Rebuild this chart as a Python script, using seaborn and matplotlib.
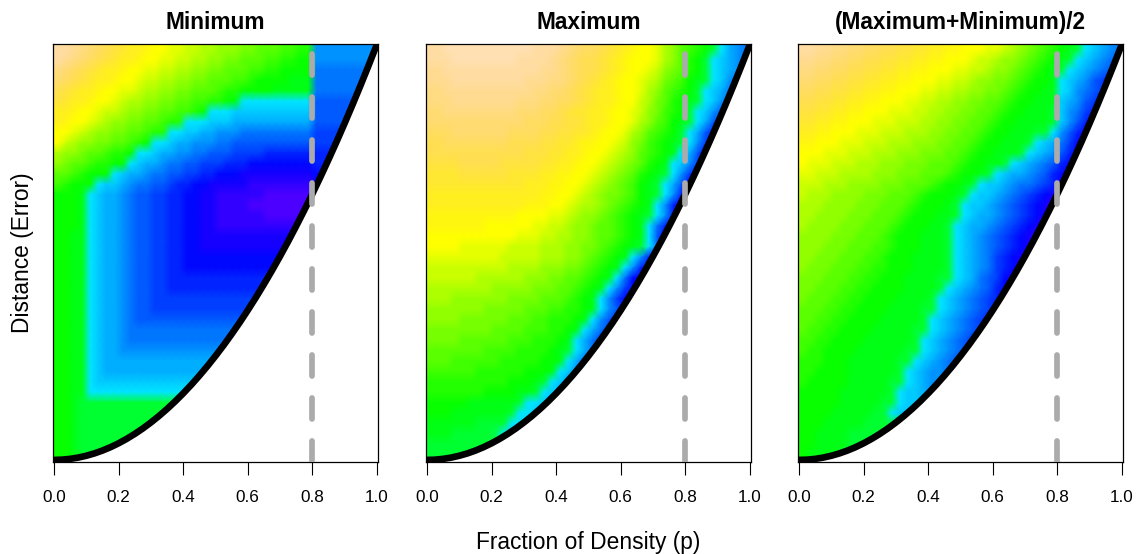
import colorsys
import numpy as np
import pandas as pd
import matplotlib
matplotlib.use("Agg")
import matplotlib.pyplot as plt
from matplotlib.colors import ListedColormap
from matplotlib.transforms import Affine2D
import seaborn as sns

# colour levels, one base-36 digit per cell (0 purple .. z peach)
# top row first, rows stop where the curve cuts them off
MIN_ROWS = [
    "yyxwvutsrqqpoonnmmllkkkjjiiihhgg88888888",
    "yxwvutsrqqpoonnmmllkkjjiiihhggff88888888",
    "wvutsrqqpoonnmmllkkjjiiihhggffff77777777",
    "vutsrqqpoonmmllkkjjiiihhgffffeee77777777",
    "tsrqqpoonnmllkkjjiiihggffffeeeee77777777",
    "srqqpoonmllkkjjiihhggfebbbbbbbbb66666666",
    "qqpoonmmlkkjjiihhgfbbbaaaaaaaaaa66666666",
    "qpoonmlkkjjiihggbbbaaa999999999966666666",
    "oonmlkkjjiihggbbaa9988877777777755555555",
    "omlkkjjiihgfbba9988877666666666655555555",
    "lkkjiihggfbba998877666555544444444444444",
    "kjiihggffba99877665554443333333344444444",
    "iihgfffba9987766554433322222222233333333",
    "hgfffbaa98776654433222221111111122222222",
    "fffeba9987665544332211111100000011",
    "fffeba99876655443322111100000000",
    "fffeba99876655443322111111000000",
    "fffeba9987665544332211111111111",
    "ffeeba998766554433222222222222",
    "ffeeba998766554433222222222222",
    "ffeeba99876655443333333333333",
    "ffeeba9987665544333333333333",
    "ffeeba998766554444444444444",
    "ffeeba998766554444444444444",
    "ffeeba99876655555555555555",
    "ffeeba9987665555555555555",
    "ffeeba998766666666666666",
    "ffeeba99877777777777777",
    "ffeeba9987777777777777",
    "ffeeba998888888888888",
    "ffeeba99999999999999",
    "ffeeba9999999999999",
    "ffeebaaaaaaaaaaaaa",
    "ffeebbbbbbbbbbbbb",
    "ffeddddddddddddd",
    "ffeddddddddddd",
    "ffeddddddddddd",
    "ffedddddddd",
    "ffeddddddd",
    "ffedd",
]
MAX_ROWS = [
    "yyzzzzzzzzzzzyyyxwvuutsrqpoonlkihgfdb987",
    "yyyzzzzzzzzyyyyxwvuttsrqpooonlkigfdba987",
    "xxyyyyyyyyyyyyxxwvuttsrqpoonmkjigfdba987",
    "xxxyyyyyyyyyxxxwwvutsrqpoonmljihfedba87",
    "wwxxxxxxxxxxxwwvvutsrqqpoonlkihgfdba97",
    "wwwxxxxxxxxwwwvvuutsrqqpoomljigfedba87",
    "vvwwwwwwwwwvvvuutsrrqqpoonmkjhgfdba865",
    "vvvvvvvvvvvvuuuttssrqqpoonlkihfedb965",
    "uuuvvvvvvvuuuuttssrrqpoonlkihgfdb964",
    "ttuuuuuuuuttttssrrqppoonmkjhgfedb853",
    "ttttttttttttsssrrqqpoonmlkihgfeb963",
    "sssstttttsssssrrqqpoonmlkjigfeba853",
    "rrrrssssssrrrrqqppoonmlkjigfedb853",
    "rrrrrrrrrrrrqqqppoonmlkjihfedb9632",
    "qqqqqqqqqqqqqqppoonmlkjjihfedb842",
    "qqqqqqqqqqqqpppoonmllkjihgfeb842",
    "pppppppppppoooonnmlkkjihgfedb842",
    "pppppppoooooonnmmlkkjiihgfeb742",
    "ooooooooooonnnmmllkkjiihgfeb63",
    "oooonnnnnnmmmmlllkkjjihgfedb73",
    "nnnnnnnnnmmmmmlllkkjihgfeb843",
    "mmmmmmmmmmllllkkkjjihgfeb84",
    "mmmmmmllllllkkkjjiihgfeb73",
    "llllllllkkkkkjjjiihgfeb853",
    "lllkkkkkkkjjjjiiihgfeb853",
    "kkkkkkkjjjjjiiihhggfeb864",
    "kkkkjjjjjjiiihhgggfeb865",
    "jjjjjjjjiiiihhhggfeb975",
    "jjjjiiiiiihhhgggfeb975",
    "iiiiiiihhhhggggfedb97",
    "iiihhhhhhgggggffeb97",
    "hhhhhhggggggfffeba8",
    "ggggggggggfffedba8",
    "gggggggffffeedba9",
    "fffffeeeeeedbba9",
    "fffeeeeeeedbba9",
    "eeeeeeddddbba9",
    "eeedddddcbaa",
    "dddddddddd",
    "dddddd",
]
MID_ROWS = [
    "yyxxwwvvuuttssrrqqppooonnmlkjihgfedba987",
    "xxwwvvuuttssrrqqppooonmmlkkjihgfedba9876",
    "wwvvuuttssrrqqppooonnmmlkkjihgfedba98765",
    "vvuuttssrrqqppooonnmmlkkjjihgffeba98654",
    "uuttssrrqqppooonnmmllkkjjihgffeeba87654",
    "ttssrrqqppooonnmmllkkjjiihgffeeea98653",
    "ssrrqqppooonnnmmllkkjjiihgffeeeda87543",
    "rrqqppooonnnmmmllkkjjiihgffeeeeda8643",
    "qqppooonnnmmmlllkkjjiihgffeeeddb8642",
    "ppooonnnmmmlllkkkjjiihgffeeedba97532",
    "ooonnnmmmlllkkkjjjiihgffeeedba98642",
    "onnnmmmlllkkkjjjiiihgffeedba9876432",
    "nnmmmllllkkkjjjiiihgffedba99876432",
    "mmmlllkkkkjjjiiihgffedbaa987765422",
    "mlllkkkkjjjiiihgfffedbaa987654321",
    "lllkkkkjjjiiihgfffedbaa987654321",
    "llkkkkjjjiiihgfffeedba9987654321",
    "lkkkkjjjiiihgfffeedba9987654321",
    "kkkkjjjiiihgfffeeedba987654321",
    "kkkjjjiiihhgfffeeedba987654321",
    "kkjjjiiihhgfffeeeedba98754322",
    "kjjjiiihhggfffeeeedba9875432",
    "jjjiiihhggfffeeeeddba976532",
    "jjiiihhggffffeeeedba9876432",
    "jiiihhggffffeeeedba9876543",
    "iiihhggffffeeeeddba987654",
    "iihhggffffeeeeedba987654",
    "ihhggffffeeeeeddba98765",
    "hhggffffeeeeeedba98765",
    "hggffffeeeeeeddba9876",
    "gggfffeeeeeeddba9876",
    "ggffffeeeeeedba9887",
    "gfffffeeeeeddba988",
    "fffffeeeeeedbaa98",
    "fffffeeeeeddbaa9",
    "ffffeeeeeddbaa",
    "fffeeeeedddddd",
    "ffeeeedddddd",
    "ffeeeedddd",
    "feeeed",
]
panel_titles = ["Minimum", "Maximum", "(Maximum+Minimum)/2"]

# boundary curve
curve_x = [0, .025, .05, .075, .1, .125, .15, .175, .2, .225, .25, .275, .3, .325, .35, .375, .4, .425, .45, .475,
           .5, .525, .55, .575, .6, .625, .65, .675, .7, .725, .75, .775, .8, .825, .85, .875, .9, .925, .95, .975, 1]
curve_y = [0, .0006, .0025, .0056, .01, .0156, .0225, .0306, .04, .0506, .0625, .0756, .09, .1056, .1225, .1406,
           .16, .1806, .2025, .2256, .25, .2756, .3025, .3306, .36, .3906, .4225, .4556, .49, .5256, .5625, .6006,
           .64, .6806, .7225, .7656, .81, .8556, .9025, .9506, 1]
cutoff_x = [.8, .8]
cutoff_y = [-.005, 1]
x_ticks = [0, .2, .4, .6, .8, 1]
x_labels = ["0.0", "0.2", "0.4", "0.6", "0.8", "1.0"]

N = 40
W, H = 1144, 554


def topo_cmap():
    cols = []
    for t in np.linspace(0, 1, 12):
        cols.append(colorsys.hsv_to_rgb((43 - 12 * t) / 60, 1, 1))
    for t in np.linspace(0, 1, 12):
        cols.append(colorsys.hsv_to_rgb((23 - 12 * t) / 60, 1, 1))
    for t in np.linspace(0, 1, 12):
        cols.append(colorsys.hsv_to_rgb((10 - 4 * t) / 60, 1 - .7 * t, 1))
    return ListedColormap(cols)


def decode(rows):
    # cells past the curve repeat the row's last value, the white fill hides them
    grid = np.full((N, N), np.nan)
    for j, row in enumerate(rows):
        for i, c in enumerate(row[:N]):
            grid[j, i] = int(c, 36)
    grid = pd.DataFrame(grid).ffill(axis=1).to_numpy()
    return np.pad(grid, 1, mode="edge")


def draw_panel(ax, rows, title, cmap):
    sns.heatmap(decode(rows), ax=ax, cmap=cmap, vmin=-.5, vmax=35.5, cbar=False,
                xticklabels=False, yticklabels=False, shading="gouraud")
    # mesh nodes sit on the cell centres
    ax.collections[0].set_transform(Affine2D().translate(-.5, -.5) + ax.transData)
    cx = np.array(curve_x) * N
    cy = (1 - np.array(curve_y)) * N
    ax.fill_between(cx, cy, N + 1, color="white", zorder=2, lw=0)
    ax.axvspan(N, N + 1, color="white", zorder=2, lw=0)
    sns.lineplot(x=cx, y=cy, ax=ax, color="black", lw=4.8, estimator=None, sort=False, zorder=3)
    sns.lineplot(x=np.array(cutoff_x) * N, y=(1 - np.array(cutoff_y)) * N, ax=ax, color="#ABABAB",
                 lw=4.1, estimator=None, sort=False, zorder=4,
                 linestyle=(0, (3.7, 3.85)), dash_capstyle="round")
    ax.set_xlim(-.12, N + .12)
    ax.set_ylim(N + .2, 0)
    ax.set_xticks(np.array(x_ticks) * N)
    ax.set_xticklabels(x_labels, fontsize=12.3)
    ax.set_yticks([])
    ax.tick_params(axis="x", length=9.4, width=.8, pad=11, color="black", labelcolor="black", bottom=True)
    for s in ax.spines.values():
        s.set_visible(True)
        s.set_color("black")
        s.set_linewidth(.9)
    ax.set_title(title, fontsize=16.3, fontweight="bold", pad=10.5, color="black")


def main():
    sns.set_theme(style="white")
    plt.rcParams["font.family"] = ["Liberation Sans", "DejaVu Sans"]
    cmap = topo_cmap()
    fig = plt.figure(figsize=(W / 100, H / 100), dpi=100)
    lefts = [53, 426, 798]
    for left, rows, title in zip(lefts, [MIN_ROWS, MAX_ROWS, MID_ROWS], panel_titles):
        ax = fig.add_axes([left / W, 1 - 462 / H, 325 / W, 418 / H])
        draw_panel(ax, rows, title, cmap)
    fig.text(23 / W, 1 - 253 / H, "Distance (Error)", rotation=90, fontsize=16.4, ha="center", va="center", color="black")
    fig.text(588 / W, 1 - 543 / H, "Fraction of Density (p)", fontsize=16.4, ha="center", va="center", color="black")
    fig.savefig("out.png", dpi=100)


if __name__ == "__main__":
    main()
